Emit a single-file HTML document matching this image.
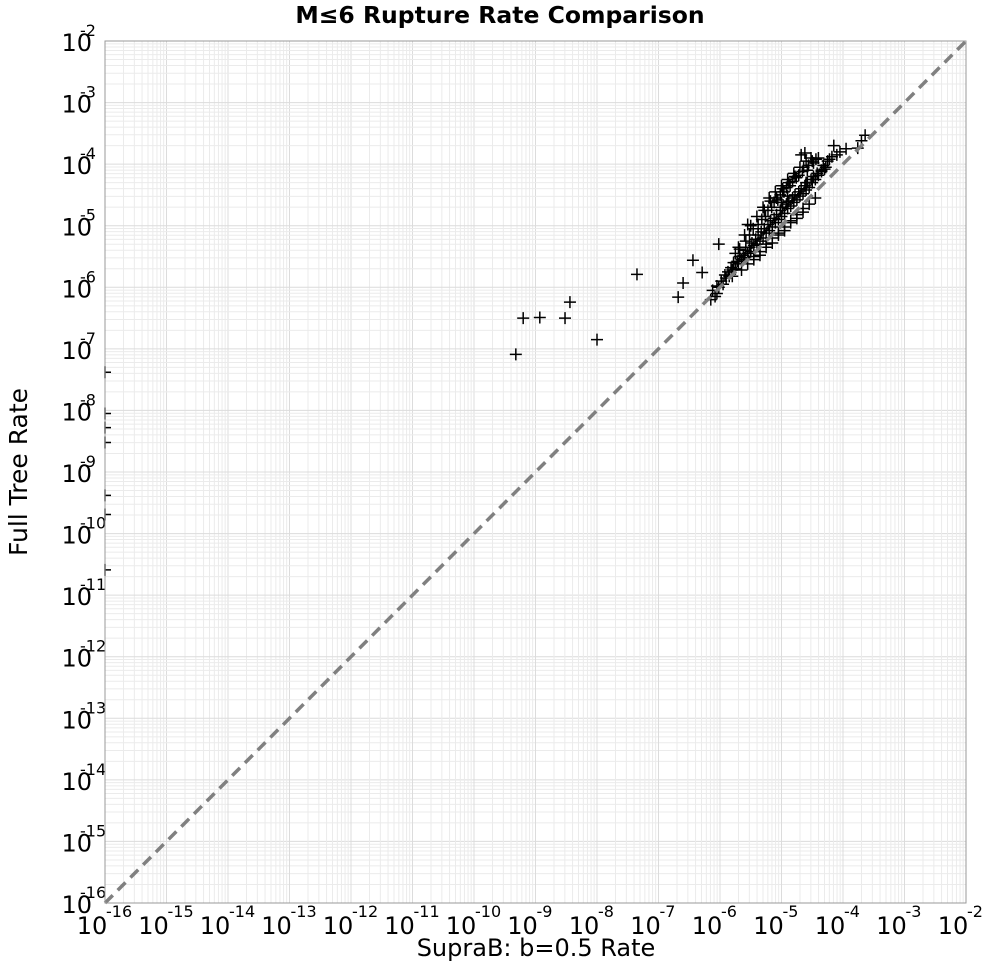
<!DOCTYPE html>
<html><head><meta charset="utf-8"><style>
body{margin:0;background:#fff;}
svg text{font-family:"DejaVu Sans","Liberation Sans",sans-serif;}
</style></head><body>
<svg id="chart" width="1000" height="965" xmlns="http://www.w3.org/2000/svg">
<text x="500" y="23" text-anchor="middle" font-size="23.5" font-weight="bold">M≤6 Rupture Rate Comparison</text>
<text x="536" y="956" text-anchor="middle" font-size="24">SupraB: b=0.5 Rate</text>
<text transform="translate(27,472) rotate(-90)" text-anchor="middle" font-size="25">Full Tree Rate</text>
<g id="grid"></g>
<g id="ticks"></g>
<g id="pts"></g>
<line id="diag" stroke="#808080" stroke-width="3.5" stroke-dasharray="11,7"/>
<rect x="105" y="41" width="861" height="862" fill="none" stroke="#999" stroke-width="1"/>
</svg>
<script>
const xExps=[-16,-15,-14,-13,-12,-11,-10,-9,-8,-7,-6,-5,-4,-3,-2];
const yExps=[-16,-15,-14,-13,-12,-11,-10,-9,-8,-7,-6,-5,-4,-3,-2];
// log10 values [x, y]
const ptX=[-9.32,-9.20,-8.93,-8.52,-8.44,-8.00,-7.35,-6.68,-6.60,-6.44,-6.29,-6.02,
-16,-16,-16,-16,-16,-16,-16,
-6.15,-6.12,-6.08,-6.05,-6.02,-5.98,-5.95,-5.92,-5.90,-5.87,-5.85,-5.82,-5.80,-5.78,-5.75,-5.72,-5.70,-5.68,-5.65,-5.62,-5.60,-5.58,-5.55,-5.52,-5.50,-5.48,-5.45,-5.42,-5.40,-5.38,-5.35,-5.33,-5.30,-5.28,-5.25,-5.22,-5.20,-5.18,-5.15,-5.12,-5.10,-5.08,-5.05,-5.02,-5.00,-4.98,-4.95,-4.92,-4.90,-4.88,-4.85,-4.82,-4.80,-4.78,-4.75,-4.72,-4.70,-4.68,-4.65,-4.62,-4.60,-4.58,-4.55,-4.52,-4.50,-4.48,-4.45,-4.42,-4.40,-4.35,-4.30,
-5.70,-5.60,-5.50,-5.40,-5.30,-5.20,-5.10,-5.00,-4.90,-4.80,-4.70,-4.60,-4.50,-4.40,
-5.65,-5.45,-5.25,-5.05,-4.85,-4.65,-4.55,-4.45,-5.35,-5.15,-4.95,-4.75,
-5.28,-5.18,-5.08,-4.98,-4.88,-4.78,-4.68,-4.58,-4.62,-4.52,-4.32,-4.28,-4.22,-4.18,
-5.75,-5.68,-5.58,-5.52,-5.46,-5.38,-5.32,-5.26,-5.22,-5.16,-5.12,-5.06,-5.02,-4.96,-4.92,-4.86,-4.82,-4.76,-4.72,-4.66,-4.64,-4.56,-4.48,-4.44,
-5.55,-5.45,-5.35,-5.25,-5.15,-5.05,-4.95,-4.85,-4.75,-4.65,
-3.64,-3.76,-3.70,-3.95,-4.05,-4.15,-4.10,-4.25,-4.35,-4.60,-4.90,-5.55,-5.00,-5.80,-6.05];
const ptY=[-7.09,-6.50,-6.49,-6.50,-6.24,-6.85,-5.79,-6.16,-5.93,-5.56,-5.76,-5.30,
-7.38,-8.05,-8.28,-8.52,-9.38,-9.69,-10.59,
-6.20,-6.05,-6.15,-5.98,-6.00,-5.90,-5.95,-5.80,-5.85,-5.75,-5.82,-5.68,-5.72,-5.60,-5.70,-5.58,-5.62,-5.50,-5.55,-5.48,-5.52,-5.40,-5.45,-5.35,-5.42,-5.28,-5.32,-5.22,-5.30,-5.15,-5.25,-5.10,-5.20,-5.05,-5.12,-4.98,-5.08,-4.92,-5.02,-4.88,-4.95,-4.82,-4.90,-4.75,-4.85,-4.70,-4.80,-4.65,-4.72,-4.60,-4.68,-4.55,-4.62,-4.50,-4.58,-4.45,-4.52,-4.40,-4.48,-4.35,-4.42,-4.30,-4.38,-4.25,-4.30,-4.20,-4.25,-4.15,-4.18,-4.12,-4.08,
-5.35,-5.15,-5.00,-4.85,-4.70,-4.55,-4.45,-4.35,-4.25,-4.15,-4.05,-3.95,-3.95,-3.90,
-5.72,-5.55,-5.35,-5.15,-4.95,-4.78,-4.65,-4.55,-5.48,-5.28,-5.08,-4.88,
-4.75,-4.60,-4.55,-4.40,-4.30,-4.20,-3.85,-4.10,-3.82,-3.90,-4.02,-4.05,-3.92,-3.88,
-5.45,-5.38,-5.25,-5.15,-5.05,-4.98,-4.90,-4.85,-4.75,-4.70,-4.62,-4.58,-4.50,-4.45,-4.38,-4.35,-4.28,-4.22,-4.18,-4.12,-4.05,-4.02,-3.98,-3.92,
-5.62,-5.50,-5.42,-5.30,-5.20,-5.12,-5.02,-4.92,-4.82,-4.72,
-3.53,-3.74,-3.62,-3.75,-3.80,-3.70,-3.85,-3.95,-4.10,-4.30,-4.52,-4.98,-4.62,-5.82,-6.10];
const L=105,R=966,T=41,B=903,LO=-16,HI=-2;
const sx=v=>L+(v-LO)/(HI-LO)*(R-L);
const sy=v=>B-(v-LO)/(HI-LO)*(B-T);
const NS="http://www.w3.org/2000/svg";
function mk(tag,attrs,parent){const e=document.createElementNS(NS,tag);for(const k in attrs)e.setAttribute(k,attrs[k]);parent.appendChild(e);return e;}
const grid=document.getElementById('grid');
for(let d=LO;d<HI;d++){for(let m=1;m<=9;m++){const v=d+Math.log10(m);
 const gx=mk('line',{x1:sx(v),x2:sx(v),y1:T,y2:B,stroke:m==1?'#dcdcdc':'#ebebeb','stroke-width':1},grid);
 
 const gy=mk('line',{x1:L,x2:R,y1:sy(v),y2:sy(v),stroke:m==1?'#dcdcdc':'#ebebeb','stroke-width':1},grid);
 }}
const tk=document.getElementById('ticks');
xExps.forEach(e=>{const x=sx(e);
 const t=mk('text',{x:x-13,y:934,'font-size':24,'text-anchor':'middle'},tk);t.textContent='10';
 
 const s=mk('text',{x:x+1,y:917,'font-size':16,'text-anchor':'start'},tk);s.textContent=String(e);
 });
yExps.forEach(e=>{const y=sy(e);
 const t=mk('text',{x:92,y:y+10,'font-size':24,'text-anchor':'end'},tk);t.textContent='10';
 
 const s=mk('text',{x:80,y:y-5,'font-size':16,'text-anchor':'start'},tk);s.textContent=String(e);
 });
const pts=document.getElementById('pts');
for(let i=0;i<ptX.length;i++){const x=sx(ptX[i]),y=sy(ptY[i]);
 const p=mk('path',{d:`M${Math.max(x-6,L)} ${y}H${x+6}M${x} ${y-6}V${y+6}`,stroke:'#000','stroke-width':1.5,fill:'none'},pts);
 }
const dg=document.getElementById('diag');
dg.setAttribute('x1',sx(LO));dg.setAttribute('y1',sy(LO));dg.setAttribute('x2',sx(HI));dg.setAttribute('y2',sy(HI));
</script>
</body></html>
